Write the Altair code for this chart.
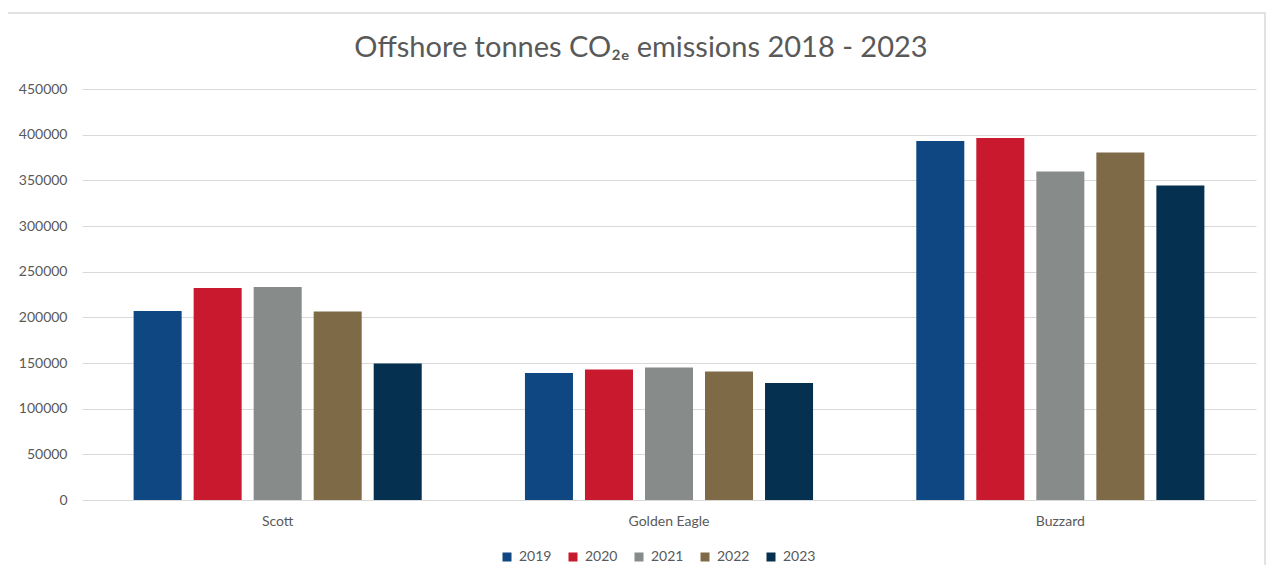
import altair as alt
import pandas as pd

sites = ["Scott", "Golden Eagle", "Buzzard"]
years = ["2019", "2020", "2021", "2022", "2023"]
v2019 = [206900, 139000, 393000]
v2020 = [232100, 142900, 396300]
v2021 = [233200, 145000, 359700]
v2022 = [206400, 140700, 380500]
v2023 = [149400, 128100, 344400]
colors = ["#0F4783", "#C9192E", "#878B8A", "#7F6A48", "#05304F"]
y_ticks = [0, 50000, 100000, 150000, 200000, 250000, 300000, 350000, 400000, 450000]
title_text = "Offshore tonnes CO\u2082\u2091 emissions 2018 - 2023"

series = [v2019, v2020, v2021, v2022, v2023]
rows = []
for yr, vals in zip(years, series):
    for s, v in zip(sites, vals):
        rows.append({"site": s, "year": yr, "value": v})
df = pd.DataFrame(rows)

FONT = "Lato"
GREY = "#595959"

bars = alt.Chart(df).mark_bar().encode(
    x=alt.X("site:N", sort=sites, title=None,
            scale=alt.Scale(paddingInner=0, paddingOuter=0),
            axis=alt.Axis(labelAngle=0, ticks=False, domain=False, labelPadding=14,
                          labelFontSize=14, labelColor=GREY, labelFont=FONT)),
    xOffset=alt.XOffset("year:N", sort=years,
                        scale=alt.Scale(paddingInner=0.2, paddingOuter=0.86)),
    y=alt.Y("value:Q", title=None,
            scale=alt.Scale(domain=[0, 450000], nice=False),
            axis=alt.Axis(values=y_ticks, ticks=False, domain=False, labelPadding=15,
                          labelFontSize=14, labelColor=GREY, labelFont=FONT,
                          gridColor="#d9d9d9", gridWidth=1, format="d")),
    color=alt.Color("year:N", sort=years,
                    scale=alt.Scale(domain=years, range=colors),
                    legend=alt.Legend(title=None, orient="none", direction="horizontal",
                                      legendX=418, legendY=461, symbolType="square",
                                      symbolSize=81, symbolStrokeWidth=0, labelOffset=5,
                                      columnPadding=14, labelFontSize=14,
                                      labelColor=GREY, labelFont=FONT, padding=0)),
)

one = pd.DataFrame({"t": [title_text]})
title = alt.Chart(one).mark_text(
    fontSize=29, font=FONT, color=GREY, align="center", baseline="alphabetic"
).encode(text="t:N", x=alt.value(559), y=alt.value(-32))

frame = alt.Chart(one).mark_rect(fill=None, stroke="#d9d9d9", strokeWidth=1.5).encode(
    x=alt.value(-76), x2=alt.value(1183), y=alt.value(-76), y2=alt.value(520)
)

chart = alt.layer(frame, bars, title).properties(
    width=1174, height=411,
    autosize=alt.AutoSizeParams(type="none"),
    padding={"left": 74, "top": 81, "right": 10, "bottom": 65},
).configure(background="white", view=alt.ViewConfig(stroke=None))

chart.save("out.html", embed_options={"renderer": "svg", "actions": False})
